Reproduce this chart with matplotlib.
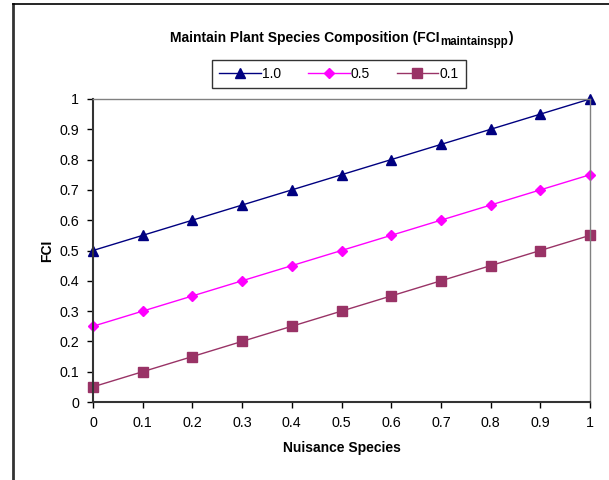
import matplotlib
matplotlib.use("Agg")
import matplotlib.pyplot as plt
from matplotlib.lines import Line2D

plt.rcParams['font.family'] = ['Liberation Sans', 'DejaVu Sans']

nuisance = [0, 0.1, 0.2, 0.3, 0.4, 0.5, 0.6, 0.7, 0.8, 0.9, 1]
fci_10 = [0.5, 0.55, 0.6, 0.65, 0.7, 0.75, 0.8, 0.85, 0.9, 0.95, 1.0]
fci_05 = [0.25, 0.3, 0.35, 0.4, 0.45, 0.5, 0.55, 0.6, 0.65, 0.7, 0.75]
fci_01 = [0.05, 0.1, 0.15, 0.2, 0.25, 0.3, 0.35, 0.4, 0.45, 0.5, 0.55]
yticks = [0, 0.1, 0.2, 0.3, 0.4, 0.5, 0.6, 0.7, 0.8, 0.9, 1]
tick_labels = ['0', '0.1', '0.2', '0.3', '0.4', '0.5', '0.6', '0.7', '0.8', '0.9', '1']

fig = plt.figure(figsize=(6.09, 4.8), dpi=100)
ax = fig.add_axes([93/609, 1 - 402/480, (590-93)/609, (402-99)/480])

ax.plot(nuisance, fci_10, color='#000080', lw=1, marker='^', ms=6.5, label='1.0', clip_on=False)
ax.plot(nuisance, fci_05, color='#FF00FF', lw=1, marker='D', ms=5, label='0.5', clip_on=False)
ax.plot(nuisance, fci_01, color='#993366', lw=1, marker='s', ms=6.5, label='0.1', clip_on=False)

ax.set_xlim(0, 1)
ax.set_ylim(0, 1)
ax.set_xticks(nuisance)
ax.set_xticklabels(tick_labels)
ax.set_yticks(yticks)
ax.set_yticklabels(tick_labels)
ax.tick_params(direction='out', length=4, width=1, labelsize=10.3, colors='black', pad=6)
for s in ['left', 'bottom']:
    ax.spines[s].set_color('#333333')
    ax.spines[s].set_linewidth(1.5)
for s in ['top', 'right']:
    ax.spines[s].set_color('#808080')
    ax.spines[s].set_linewidth(1)

ax.set_xlabel('Nuisance Species', fontsize=10, fontweight='bold')
ax.xaxis.set_label_coords(0.5, -(441 - 402) / 303)
ax.set_ylabel('FCI', fontsize=10, fontweight='bold')
ax.yaxis.set_label_coords(-(93 - 54) / 497, 0.5)

# title with subscript built from pieces
t1 = fig.text(170/609, 1 - 42/480, 'Maintain Plant Species Composition (FCI',
              ha='left', va='baseline', fontsize=10, fontweight='bold')
t2 = ax.annotate('maintainspp', xy=(1, 0), xycoords=t1, xytext=(0.3, 0), textcoords='offset points',
                 ha='left', va='baseline', fontsize=8.3, fontweight='bold', annotation_clip=False)
t3 = ax.annotate(')', xy=(1, 0), xycoords=(t2, t1), xytext=(0, 0), textcoords='offset points',
                 ha='left', va='bottom', fontsize=10, fontweight='bold', annotation_clip=False)

leg = ax.legend(loc='center', bbox_to_anchor=(339/609, 1 - 74/480), bbox_transform=fig.transFigure,
                ncol=3, frameon=True, fancybox=False, fontsize=10, handlelength=3,
                handletextpad=0.1, columnspacing=1.9, borderpad=0.5)
leg.get_frame().set_edgecolor('black')
leg.get_frame().set_linewidth(1)

fig.add_artist(Line2D([13/609, 13/609], [0, 1 - 4/480], color='#333333', lw=2, transform=fig.transFigure))
fig.add_artist(Line2D([13/609, 1], [1 - 4/480, 1 - 4/480], color='black', lw=1.2, transform=fig.transFigure))

fig.savefig('out.png', dpi=100)
